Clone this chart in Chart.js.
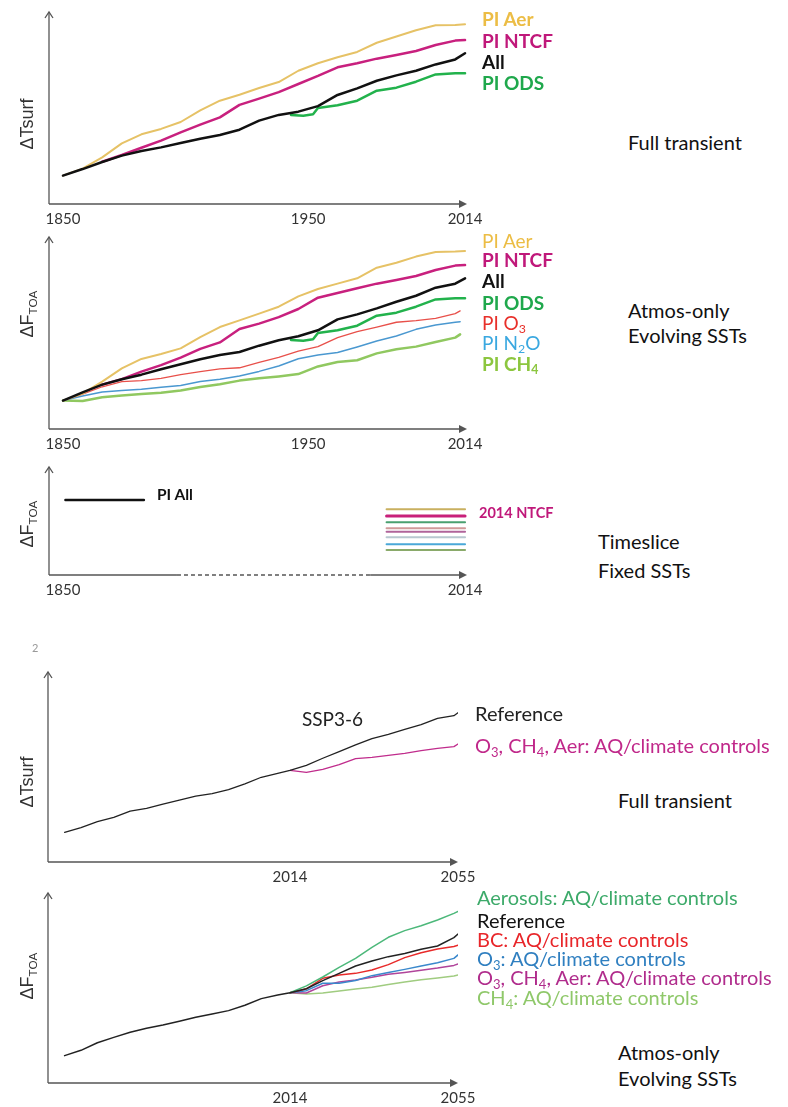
<!DOCTYPE html>
<html>
<head>
<meta charset="utf-8">
<script src="https://cdn.jsdelivr.net/npm/chart.js@4"></script>
<style>
  body { margin: 0; background: #fff; overflow: hidden; }
  #page { position: relative; width: 788px; height: 1107px; }
  canvas { position: absolute; left: 0; }
  .lbl { position: absolute; white-space: nowrap; line-height: 1; transform: translateY(-50%);
         font-family: Lato, "Open Sans", sans-serif; font-size: 20px; color: #111; }
  .lg { font-size: 19px; }
  .b { font-weight: bold; }
  .yt { position: absolute; white-space: nowrap; line-height: 1; transform: translate(-50%, -50%) rotate(-90deg);
        font-family: "Liberation Sans", Arial, sans-serif; font-size: 18px; color: #333; }
  sub { font-size: 0.65em; vertical-align: -0.3em; line-height: 0; }
</style>
</head>
<body>
<div id="page">
  <canvas id="c1" width="500" height="226" style="top:10px"></canvas>
  <canvas id="c2" width="500" height="226" style="top:235px"></canvas>
  <canvas id="c3" width="500" height="142" style="top:465px"></canvas>
  <canvas id="c4" width="500" height="224" style="top:670px"></canvas>
  <canvas id="c5" width="500" height="224" style="top:891px"></canvas>

  <div class="yt" style="left:27px;top:124px">ΔTsurf</div>
  <div class="yt" style="left:27px;top:314px">ΔF<sub>TOA</sub></div>
  <div class="yt" style="left:27px;top:524px">ΔF<sub>TOA</sub></div>
  <div class="yt" style="left:27px;top:782px">ΔTsurf</div>
  <div class="yt" style="left:27px;top:976px">ΔF<sub>TOA</sub></div>

  <div class="lbl lg b" style="left:482px;top:18px;color:#ecbd45">PI Aer</div>
  <div class="lbl lg b" style="left:482px;top:40px;color:#c0187a">PI NTCF</div>
  <div class="lbl lg b" style="left:482px;top:61px;color:#111">All</div>
  <div class="lbl lg b" style="left:482px;top:82px;color:#1fa84c">PI ODS</div>
  <div class="lbl" style="left:628px;top:142px">Full transient</div>

  <div class="lbl lg" style="left:482px;top:240px;color:#ecbd45">PI Aer</div>
  <div class="lbl lg b" style="left:482px;top:259px;color:#c0187a">PI NTCF</div>
  <div class="lbl lg b" style="left:482px;top:280px;color:#111">All</div>
  <div class="lbl lg b" style="left:482px;top:302px;color:#1fa84c">PI ODS</div>
  <div class="lbl lg" style="left:482px;top:322px;color:#e8302a">PI O<sub>3</sub></div>
  <div class="lbl lg" style="left:482px;top:342px;color:#3aa8e0">PI N<sub>2</sub>O</div>
  <div class="lbl lg b" style="left:482px;top:363px;color:#8cc63f">PI CH<sub>4</sub></div>
  <div class="lbl" style="left:628px;top:310px">Atmos-only</div>
  <div class="lbl" style="left:628px;top:335px">Evolving SSTs</div>

  <div class="lbl b" style="left:157px;top:495px;font-size:15.5px">PI All</div>
  <div class="lbl b" style="left:479px;top:513px;font-size:14.5px;color:#c0187a">2014 NTCF</div>
  <div class="lbl" style="left:598px;top:541px">Timeslice</div>
  <div class="lbl" style="left:598px;top:570px">Fixed SSTs</div>

  <div class="lbl" style="left:32px;top:647px;font-size:11px;color:#999">2</div>
  <div class="lbl" style="left:302px;top:718px;font-size:19px;color:#222">SSP3-6</div>
  <div class="lbl" style="left:475px;top:713px;color:#222">Reference</div>
  <div class="lbl" style="left:475px;top:745px;color:#c0288a">O<sub>3</sub>, CH<sub>4</sub>, Aer: AQ/climate controls</div>
  <div class="lbl" style="left:618px;top:800px">Full transient</div>

  <div class="lbl" style="left:477px;top:897px;color:#3daa6a">Aerosols: AQ/climate controls</div>
  <div class="lbl" style="left:477px;top:920px;color:#111">Reference</div>
  <div class="lbl" style="left:477px;top:939px;color:#e8262a">BC: AQ/climate controls</div>
  <div class="lbl" style="left:477px;top:958px;color:#2f7fc0">O<sub>3</sub>: AQ/climate controls</div>
  <div class="lbl" style="left:477px;top:977px;color:#b02c8c">O<sub>3</sub>, CH<sub>4</sub>, Aer: AQ/climate controls</div>
  <div class="lbl" style="left:477px;top:997px;color:#8fc86a">CH<sub>4</sub>: AQ/climate controls</div>
  <div class="lbl" style="left:618px;top:1052px">Atmos-only</div>
  <div class="lbl" style="left:618px;top:1078px">Evolving SSTs</div>
</div>

<script>
// years for the historical runs (1850-2014)
const histYears = [1850, 1858, 1866, 1874, 1882, 1890, 1898, 1906, 1914, 1922, 1930,
                   1938, 1946, 1954, 1962, 1970, 1978, 1986, 1994, 2002, 2010, 2014];
const shortYears = [1850, 1858, 1866, 1874, 1882, 1890, 1898, 1906, 1914, 1922, 1930,
                    1938, 1946, 1954, 1962, 1970, 1978, 1986, 1994, 2002, 2010, 2012];
const ntcfYears = [1866, 1874, 1882, 1890, 1898, 1906, 1914, 1922, 1930, 1938,
                   1946, 1954, 1962, 1970, 1978, 1986, 1994, 2002, 2010, 2014];
const odsYears = [1943, 1948, 1952, 1954, 1962, 1970, 1978, 1986, 1994, 2002, 2010, 2014];

// panel 1 - full transient, dTsurf
const p1All  = [14.8, 18.2, 21.9, 25.2, 27.6, 29.5, 31.8, 34.0, 35.9, 38.7, 43.4, 46.4, 48.1, 51.0, 56.8, 60.2, 64.2, 67.0, 69.4, 72.7, 75.3, 78.5];
const p1Aer  = [14.8, 18.4, 24.3, 31.6, 36.3, 39.1, 42.7, 48.8, 53.8, 56.9, 60.4, 63.5, 69.4, 73.3, 76.4, 79.2, 84.0, 87.2, 90.5, 93.1, 93.2, 93.6];
const p1Ntcf = [22.0, 25.5, 29.3, 33.0, 37.3, 41.3, 45.1, 51.6, 54.9, 58.3, 62.5, 66.7, 71.2, 73.3, 75.7, 77.6, 79.7, 82.8, 85.1, 85.4];
const p1Ods  = [46.4, 46.0, 46.7, 50.0, 51.4, 53.8, 59.0, 60.6, 63.7, 67.5, 68.1, 68.1];

// panel 2 - atmos-only evolving SSTs, dF TOA
const p2All  = [14.8, 19.1, 23.1, 25.9, 28.3, 31.1, 33.7, 36.3, 38.5, 40.1, 43.4, 46.2, 48.3, 51.4, 57.1, 59.7, 62.8, 66.3, 69.4, 73.6, 75.7, 78.5];
const p2Aer  = [14.8, 18.4, 24.7, 31.6, 36.5, 39.1, 42.0, 47.9, 53.1, 56.6, 60.1, 63.7, 69.1, 72.9, 75.7, 78.5, 84.0, 86.6, 89.8, 92.2, 92.4, 92.7];
const p2Ntcf = [23.1, 26.0, 29.9, 33.3, 37.2, 41.7, 45.1, 52.1, 54.9, 58.3, 62.5, 68.4, 70.8, 73.3, 75.7, 77.6, 79.7, 82.8, 85.1, 85.4];
const p2Ods  = [46.4, 46.0, 46.7, 50.0, 51.4, 53.8, 59.0, 60.6, 63.7, 67.5, 68.1, 68.1];
const p2O3   = [14.8, 18.2, 22.0, 24.7, 25.2, 26.4, 28.3, 29.9, 31.3, 31.9, 34.7, 37.3, 40.5, 42.9, 47.6, 50.7, 53.1, 55.6, 56.4, 57.6, 60.1, 61.5];
const p2N2O  = [14.8, 17.2, 19.3, 20.1, 20.7, 21.7, 22.6, 24.7, 25.9, 27.6, 30.0, 32.8, 36.6, 38.5, 39.8, 42.7, 45.8, 48.4, 51.9, 54.2, 55.6, 55.9];
const p2Ch4  = [14.8, 14.6, 16.5, 17.5, 18.2, 18.9, 20.0, 21.9, 23.3, 25.2, 26.4, 27.4, 28.6, 32.6, 34.9, 35.8, 39.4, 41.5, 42.9, 45.3, 47.6, 49.3];

// panel 3 - timeslice fixed SSTs
const piAllYears = [1851, 1883];
const piAllLevel = 69.4;
const sliceYears = [1982, 2014];
const sliceLevels = [60.8, 54.6, 48.8, 43.2, 40.1, 34.9, 28.4, 23.1];

// panels 4 and 5 - SSP3-6 future
const futYears = [1959, 1963, 1967, 1971, 1975, 1979, 1983, 1987, 1991, 1995, 1999, 2003, 2007,
                  2011, 2014, 2018, 2022, 2026, 2030, 2034, 2038, 2042, 2046, 2050, 2054, 2055];
const branchYears = [2014, 2018, 2022, 2026, 2030, 2034, 2038, 2042, 2046, 2050, 2054, 2055];
const p4Ref  = [15.6, 18.1, 21.2, 23.5, 26.8, 28.2, 30.5, 32.6, 34.7, 36.0, 38.1, 41.1, 44.6, 46.7, 48.2, 50.9, 54.6, 58.1, 61.6, 64.9, 67.2, 69.8, 72.3, 75.6, 77.0, 78.6];
const p4Ctrl = [48.2, 47.2, 48.8, 51.2, 54.4, 55.1, 56.1, 57.2, 58.6, 59.8, 60.7, 62.1];
const p5Ref  = [14.4, 17.2, 21.2, 24.0, 26.7, 28.8, 30.5, 32.5, 34.6, 36.3, 38.1, 40.9, 44.4, 46.3, 47.5, 49.6, 53.9, 57.7, 61.6, 64.2, 66.5, 68.2, 70.4, 72.1, 76.5, 78.4];
const p5Aer  = [47.5, 51.1, 55.8, 60.9, 65.6, 71.4, 76.7, 80.2, 82.8, 85.8, 89.3, 90.3];
const p5Bc   = [47.5, 49.6, 55.1, 56.8, 57.7, 59.5, 62.3, 66.0, 68.6, 70.5, 71.8, 72.5];
const p5O3   = [47.5, 48.6, 52.5, 52.5, 53.9, 56.5, 58.1, 59.8, 61.6, 63.3, 65.6, 67.4];
const p5Mix  = [47.5, 47.4, 51.2, 53.2, 54.2, 55.6, 57.2, 58.2, 59.3, 60.5, 61.9, 62.6];
const p5Ch4  = [47.5, 46.8, 47.4, 48.4, 49.5, 50.4, 51.8, 53.2, 54.4, 55.3, 56.3, 56.8];

const sliceColors = ["#c9b060", "#c8207a", "#4aa070", "#d09a9a", "#b0649a", "#b8c8d0", "#4aa8d8", "#8aaa6a"];

const pair = (xs, ys) => xs.map((x, i) => ({ x, y: ys[i] }));
const series = (xs, ys, color, width) => ({
  data: pair(xs, ys), borderColor: color, borderWidth: width, pointRadius: 0,
  tension: 0, fill: false, borderCapStyle: "round", borderJoinStyle: "round"
});

// axis lines with arrow heads (x axis optionally dashed in the middle)
const arrowAxes = {
  id: "arrowAxes",
  beforeDatasetsDraw(chart, args, opts) {
    const { ctx, chartArea: a, scales: { x } } = chart;
    ctx.save();
    ctx.strokeStyle = "#555";
    ctx.fillStyle = "#555";
    ctx.lineWidth = 1.3;
    ctx.beginPath();
    ctx.moveTo(a.left, a.bottom);
    ctx.lineTo(a.left, a.top);
    ctx.stroke();
    ctx.beginPath();
    ctx.moveTo(a.left - 4, a.top + 6);
    ctx.lineTo(a.left, a.top);
    ctx.lineTo(a.left + 4, a.top + 6);
    ctx.stroke();

    const seg = (x0, x1, dash) => {
      ctx.setLineDash(dash);
      ctx.beginPath();
      ctx.moveTo(x0, a.bottom);
      ctx.lineTo(x1, a.bottom);
      ctx.stroke();
    };
    if (opts.dashed) {
      const d0 = x.getPixelForValue(opts.dashed[0]);
      const d1 = x.getPixelForValue(opts.dashed[1]);
      seg(a.left, d0, []);
      seg(d0, d1, [4, 3]);
      seg(d1, a.right - 6, []);
    } else {
      seg(a.left, a.right - 6, []);
    }
    ctx.setLineDash([]);
    ctx.beginPath();
    ctx.moveTo(a.right, a.bottom);
    ctx.lineTo(a.right - 8, a.bottom - 4);
    ctx.lineTo(a.right - 8, a.bottom + 4);
    ctx.closePath();
    ctx.fill();
    ctx.restore();
  }
};

function drawPanel(id, xMin, xMax, tickVals, pad, datasets, dashed) {
  new Chart(document.getElementById(id), {
    type: "line",
    data: { datasets },
    options: {
      responsive: false,
      animation: false,
      layout: { padding: pad },
      plugins: { legend: { display: false }, tooltip: { enabled: false }, arrowAxes: { dashed } },
      scales: {
        x: {
          type: "linear", min: xMin, max: xMax,
          grid: { display: false, drawTicks: false },
          border: { display: false },
          afterBuildTicks: (s) => { s.ticks = tickVals.map((v) => ({ value: v })); },
          ticks: {
            autoSkip: false, maxRotation: 0, padding: 6, color: "#333",
            font: { family: "Lato", size: 15 },
            callback: (v) => String(v)
          }
        },
        y: { display: false, min: 0, max: 100 }
      }
    },
    plugins: [arrowAxes]
  });
}

const padHist = { left: 49, right: 33, top: 2, bottom: 2 };
const padFut = { left: 48, right: 42, top: 2, bottom: 2 };

drawPanel("c1", 1844.3, 2014.8, [1850, 1950, 2014], padHist, [
  series(histYears, p1All, "#111", 2.5),
  series(odsYears, p1Ods, "#22b24c", 2.5),
  series(ntcfYears, p1Ntcf, "#c8207e", 2.5),
  series(histYears, p1Aer, "#e6c266", 2)
]);

drawPanel("c2", 1844.3, 2014.8, [1850, 1950, 2014], padHist, [
  series(histYears, p2All, "#111", 2.5),
  series(odsYears, p2Ods, "#22b24c", 2.5),
  series(ntcfYears, p2Ntcf, "#c8207e", 2.5),
  series(histYears, p2Aer, "#e6c266", 2),
  series(shortYears, p2O3, "#e8504a", 1.3),
  series(shortYears, p2N2O, "#4a98d0", 1.5),
  series(shortYears, p2Ch4, "#90c860", 2.5)
]);

drawPanel("c3", 1844.3, 2014.8, [1850, 2014], padHist, [
  series(piAllYears, [piAllLevel, piAllLevel], "#111", 2.5),
  ...sliceLevels.map((v, i) => series(sliceYears, [v, v], sliceColors[i], i === 1 ? 3 : 2))
], [1896.5, 1975.3]);

drawPanel("c4", 1954.95, 2055, [2014, 2055], padFut, [
  series(futYears, p4Ref, "#222", 1.3),
  series(branchYears, p4Ctrl, "#c02c8c", 1.3)
]);

drawPanel("c5", 1954.95, 2055, [2014, 2055], padFut, [
  series(futYears, p5Ref, "#222", 1.5),
  series(branchYears, p5Aer, "#4cb87a", 1.5),
  series(branchYears, p5Bc, "#e82a2a", 1.5),
  series(branchYears, p5O3, "#3a88cc", 1.5),
  series(branchYears, p5Mix, "#b0449a", 1.5),
  series(branchYears, p5Ch4, "#a0cc80", 1.5)
]);
</script>
</body>
</html>
